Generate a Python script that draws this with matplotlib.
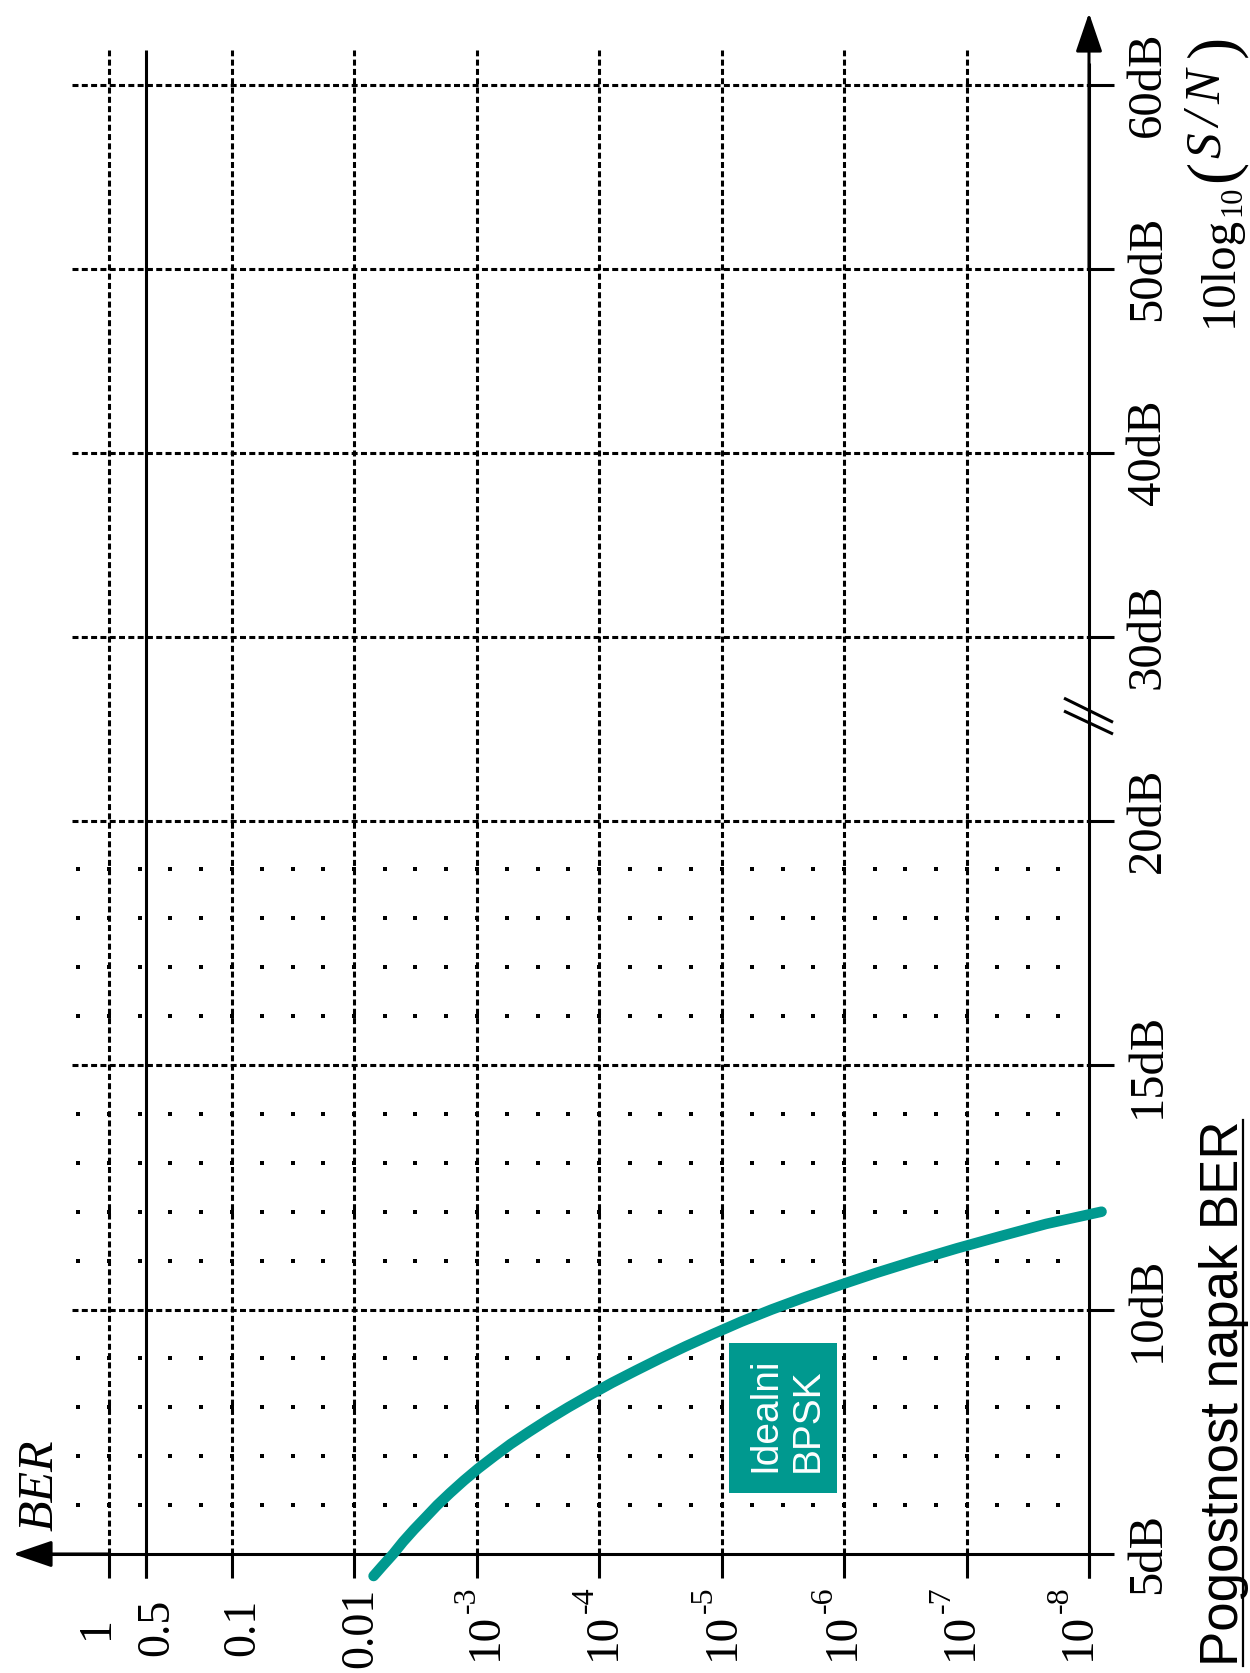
import numpy as np
import matplotlib
matplotlib.use("Agg")
import matplotlib.pyplot as plt
from matplotlib.patches import Rectangle
from matplotlib.lines import Line2D
from matplotlib.transforms import IdentityTransform

plt.rcParams["lines.scale_dashes"] = False

# ---------------- data ----------------
snr_db = [4.55, 4.75, 5.0, 5.25, 5.5, 5.75, 6.0, 6.25, 6.5, 6.75, 7.0, 7.25, 7.5, 7.75,
          8.0, 8.25, 8.5, 8.75, 9.0, 9.25, 9.5, 9.75, 10.0, 10.25, 10.5, 10.75, 11.0,
          11.25, 11.5, 11.75, 12.0]
ber_bpsk = [6.92e-3, 5.89e-3, 4.79e-3, 3.98e-3, 3.24e-3, 2.60e-3, 2.09e-3, 1.64e-3,
            1.27e-3, 9.66e-4, 7.16e-4, 5.25e-4, 3.72e-4, 2.60e-4, 1.78e-4, 1.19e-4,
            7.85e-5, 5.01e-5, 3.16e-5, 1.95e-5, 1.17e-5, 6.92e-6, 3.89e-6, 2.09e-6,
            1.08e-6, 5.43e-7, 2.60e-7, 1.20e-7, 5.25e-8, 2.24e-8, 7.9e-9]

ber_ticks = [1, 0.5, 0.1, 1e-2, 1e-3, 1e-4, 1e-5, 1e-6, 1e-7, 1e-8]
plain_labels = ["1", "0.5", "0.1", "0.01"]
plain_label_shift_px = [-12, 11, 11, 7]
power_labels = ["-3", "-4", "-5", "-6", "-7", "-8"]
power_baseline_px = [20, 16, 12, 10, 5, 1]
ber_dashed = [1, 0.1, 1e-2, 1e-3, 1e-4, 1e-5, 1e-6, 1e-7]
ber_solid = [0.5]

db_ticks = [5, 10, 15, 20, 30, 40, 50, 60]
db_tick_labels = ["5dB", "10dB", "15dB", "20dB", "30dB", "40dB", "50dB", "60dB"]
db_dashed = [10, 15, 20, 30, 40, 50, 60]

dot_exponents = [0.25 - 0.25 * k for k in range(33)]   # quarter-decade columns
dot_db = [6, 7, 8, 9, 11, 12, 13, 14, 16, 17, 18, 19]

TEAL = "#00998F"
SERIF = "Liberation Serif"
SANS = "Liberation Sans"

# ---------------- broken dB scale ----------------
COMP = 18.4 / 48.9   # compression of the dB axis above the break


def fwd(d):
    d = np.asarray(d, dtype=float)
    return np.where(d <= 20, d, 20 + (d - 20) * COMP)


def inv(u):
    u = np.asarray(u, dtype=float)
    return np.where(u <= 20, u, 20 + (u - 20) / COMP)


fig = plt.figure(figsize=(12.5, 16.73), dpi=100)
ax = fig.add_axes([0, 0, 1, 1])
ax.set_xscale("log")
ax.set_yscale("function", functions=(fwd, inv))
ax.set_xlim(10 ** (109 / 122.5), 10 ** (-(1250 - 109) / 122.5))
ax.set_ylim(float(inv(5 - 119 / 48.9)), float(inv(5 + 1554 / 48.9)))
ax.axis("off")

LW = 2.2
DASH = (4.3, 2.4)
GRID_TOP = 61.9
TICK_LOW = 4.5
BER_TICK_END = 10 ** -8.2
H_GRID_START = 2.0

# dashed verticals (constant BER)
for b in ber_dashed:
    ax.plot([b, b], [5, GRID_TOP], color="k", lw=LW, dashes=DASH, solid_capstyle="butt")
for b in ber_solid:
    ax.plot([b, b], [TICK_LOW, GRID_TOP], color="k", lw=LW, solid_capstyle="butt")
for b in ber_ticks:
    ax.plot([b, b], [TICK_LOW, 5], color="k", lw=LW, solid_capstyle="butt")

# dashed horizontals (constant SNR) and ticks
for d in db_dashed:
    ax.plot([H_GRID_START, 1e-8], [d, d], color="k", lw=LW, dashes=DASH, solid_capstyle="butt")
    ax.plot([1e-8, BER_TICK_END], [d, d], color="k", lw=LW, solid_capstyle="butt")

# dotted fine grid
X, Y = np.meshgrid(10.0 ** np.array(dot_exponents), dot_db)
ax.plot(X.ravel(), Y.ravel(), ls="none", marker="s", ms=2.3, mew=0, color="k")

# axes with arrows
ARROW_BER = 10 ** (96 / 122.5)
ARROW_DB = float(inv(5 + 1541 / 48.9))
ax.plot([10 ** 0.6, BER_TICK_END], [5, 5], color="k", lw=LW, solid_capstyle="butt")
ax.plot([1e-8, 1e-8], [TICK_LOW, float(inv(35.5))], color="k", lw=LW, solid_capstyle="butt")
arrow_style = "-|>,head_length=2.4,head_width=0.82"
ax.annotate("", xy=(ARROW_BER, 5), xytext=(1.0, 5),
            arrowprops=dict(arrowstyle=arrow_style, mutation_scale=10, lw=LW, color="k",
                            shrinkA=0, shrinkB=0))
ax.annotate("", xy=(1e-8, ARROW_DB), xytext=(1e-8, 50),
            arrowprops=dict(arrowstyle=arrow_style, mutation_scale=10, lw=LW, color="k",
                            shrinkA=0, shrinkB=0))

# axis break marks
for (y0, y1) in [(26.65, 25.34), (25.95, 24.70)]:
    ax.plot([10 ** -7.796, 10 ** -8.196], [y0, y1], color="k", lw=LW, solid_capstyle="butt")

# BPSK curve
ax.plot(ber_bpsk, snr_db, color=TEAL, lw=7.6, solid_capstyle="round",
        solid_joinstyle="round", zorder=5)

# label box
ax.add_patch(Rectangle((10 ** -5.061, 6.247), 10 ** -5.943 - 10 ** -5.061, 9.315 - 6.247,
                       facecolor=TEAL, edgecolor="none", zorder=6))
for txt, xe in [("Idealni", -5.437), ("BPSK", -5.788)]:
    ax.text(10 ** xe, 6.677, txt, rotation=90, rotation_mode="anchor", ha="left",
            va="baseline", color="white", fontsize=28, family=SANS, zorder=7)

# BER tick labels: plain numbers
for b, lab, sh in zip(ber_ticks[:4], plain_labels, plain_label_shift_px):
    ax.annotate(lab, xy=(b, 3.49), xytext=(sh * 0.72, 0), textcoords="offset points",
                rotation=90, ha="center", va="center", fontsize=33, family=SERIF)
# BER tick labels: powers of ten written as "10" with a raised exponent
for b, sup, base in zip(ber_ticks[4:], power_labels, power_baseline_px):
    ax.annotate("10", xy=(b, 2.83), xytext=(base * 0.72, 0), textcoords="offset points",
                rotation=90, rotation_mode="anchor", ha="left", va="baseline",
                fontsize=34, family=SERIF)
    ax.annotate(sup, xy=(b, 3.80), xytext=((base - 22) * 0.72, 0),
                textcoords="offset points", rotation=90, rotation_mode="anchor",
                ha="left", va="baseline", fontsize=23, family=SERIF)

# dB tick labels
for d, lab in zip(db_ticks, db_tick_labels):
    ax.annotate(lab, xy=(1e-8, d), xytext=(71 * 0.72, 0), textcoords="offset points",
                rotation=90, rotation_mode="anchor", ha="center", va="baseline",
                fontsize=35, family=SERIF)

# axis titles
ax.text(10 ** 0.457, 6.41, "BER", rotation=90, rotation_mode="anchor", ha="center",
        va="baseline", fontsize=36, family=SERIF, style="italic")
title = ax.text(10 ** -9.216, 8.29, "Pogostnost napak BER", rotation=90,
                rotation_mode="anchor", ha="center", va="baseline", fontsize=38,
                family=SANS)

fig.canvas.draw()
renderer = fig.canvas.get_renderer()

# S/N axis title, built from pieces: (text, size, style, baseline offset px, start row px from top)
x_axis_px = ax.transData.transform((1e-8, 30.0))[0]
H = fig.bbox.height
pieces = [
    ("10log", 35, "normal", 143, 327),
    ("10", 22, "normal", 151, 216),
    ("(", 48, "normal", 143, 182),
    ("S", 37, "italic", 131, 158),
    ("/", 37, "italic", 131, 128),
    ("N", 37, "italic", 131, 104),
    (")", 48, "normal", 143, 57),
]
for txt, size, style, base, row in pieces:
    fig.text(x_axis_px + base, H - row, txt, transform=IdentityTransform(),
             rotation=90, rotation_mode="anchor", ha="left", va="baseline",
             fontsize=size, family=SERIF, style=style)

# underline of the title
bb = title.get_window_extent(renderer)
xb = ax.transData.transform((10 ** -9.216, 8.29))[0] + 5
inv_fig = fig.transFigure.inverted()
p0 = inv_fig.transform((xb, bb.y0))
p1 = inv_fig.transform((xb, bb.y1))
fig.add_artist(Line2D([p0[0], p1[0]], [p0[1], p1[1]], color="k", lw=1.6,
                      transform=fig.transFigure))

fig.savefig("out.png", dpi=100)
